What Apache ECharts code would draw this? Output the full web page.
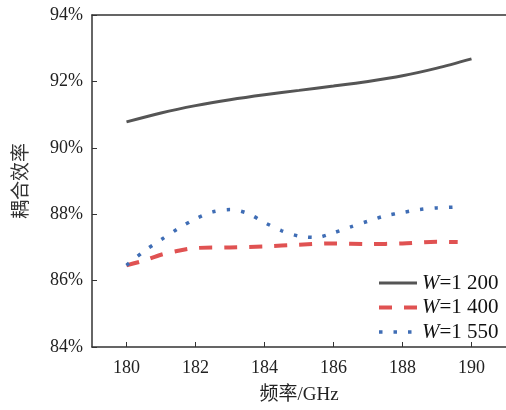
<!DOCTYPE html>
<html>
<head>
<meta charset="utf-8">
<script src="https://cdn.jsdelivr.net/npm/echarts@6/dist/echarts.min.js"></script>
<style>
  html, body { margin: 0; padding: 0; background: #fff; }
  #chart { width: 506px; height: 410px; }
</style>
</head>
<body>
<div id="chart"></div>
<script>
// 频率 (GHz) 与 耦合效率 (%)
var freq1200 = [180, 181, 182, 183, 184, 185, 186, 187, 188, 189, 190];
var eff1200 = [90.78, 91.05, 91.27, 91.45, 91.6, 91.73, 91.86, 92.0, 92.17, 92.4, 92.68];

var freq1400 = [180, 180.5, 181, 181.5, 182, 183, 184, 185, 186, 187, 188, 189, 189.6];
var eff1400 = [86.46, 86.6, 86.78, 86.9, 86.98, 87.0, 87.03, 87.08, 87.12, 87.1, 87.12, 87.17, 87.16];

var freq1550 = [180, 180.5, 181, 181.5, 182, 182.5, 183, 183.5, 184, 184.5, 185, 185.5, 186, 186.5, 187, 187.5, 188, 188.5, 189, 189.7];
var eff1550 = [86.46, 86.88, 87.23, 87.57, 87.86, 88.07, 88.14, 88.03, 87.75, 87.5, 87.34, 87.3, 87.44, 87.62, 87.79, 87.95, 88.05, 88.14, 88.19, 88.22];

var xTicks = [180, 182, 184, 186, 188, 190];
var seriesNames = ['W=1 200', 'W=1 400', 'W=1 550'];

function pairs(xs, ys) {
  var out = [];
  for (var i = 0; i < xs.length; i++) {
    out.push([xs[i], ys[i]]);
  }
  return out;
}

var chart = echarts.init(document.getElementById('chart'));

var serif = '"Liberation Serif", "Times New Roman", serif';
var cjk = '"Liberation Serif", "Noto Sans CJK SC", serif';
var axisColor = '#333';

var lineStyles = [
  { color: '#555', width: 3, type: 'solid' },
  { color: '#e05252', width: 4, type: [13, 12] },
  { color: '#3f6db5', width: 3.5, type: [3.5, 11] }
];

chart.setOption({
  animation: false,
  grid: { left: 92, top: 15, right: 0, bottom: 59 },
  legend: {
    orient: 'vertical',
    left: 377,
    top: 272,
    padding: 0,
    itemWidth: 38,
    itemHeight: 14,
    itemGap: 2.5,
    itemStyle: { opacity: 0 },
    data: seriesNames.map(function (n, i) {
      return { name: n, lineStyle: lineStyles[i] };
    }),
    formatter: function (name) {
      return '{i|W}' + name.slice(1);
    },
    textStyle: {
      fontFamily: serif,
      fontSize: 21,
      color: '#111',
      lineHeight: 22,
      rich: {
        i: { fontFamily: serif, fontSize: 21, fontStyle: 'italic', color: '#111', lineHeight: 22 }
      }
    }
  },
  xAxis: [{
    type: 'value',
    min: 179,
    max: 191,
    name: '频率/GHz',
    nameLocation: 'middle',
    nameGap: 39,
    nameTextStyle: { fontFamily: cjk, fontSize: 19, color: '#222' },
    axisLine: { show: true, lineStyle: { color: axisColor, width: 1.5 } },
    axisTick: { show: true, inside: true, length: 5, customValues: xTicks, lineStyle: { color: axisColor } },
    axisLabel: { customValues: xTicks, margin: 12, fontFamily: serif, fontSize: 18, color: '#222' },
    splitLine: { show: false }
  }, {
    type: 'value',
    position: 'top',
    min: 179,
    max: 191,
    axisLine: { show: true, lineStyle: { color: axisColor, width: 1.5 } },
    axisTick: { show: false },
    axisLabel: { show: false },
    splitLine: { show: false }
  }],
  yAxis: {
    type: 'value',
    min: 84,
    max: 94,
    interval: 2,
    name: '耦合效率',
    nameLocation: 'middle',
    nameGap: 60,
    nameTextStyle: { fontFamily: cjk, fontSize: 19, color: '#333' },
    axisLine: { show: true, lineStyle: { color: axisColor, width: 1.5 } },
    axisTick: { show: true, inside: true, length: 5, lineStyle: { color: axisColor } },
    axisLabel: { formatter: '{value}%', margin: 9, fontFamily: serif, fontSize: 18, color: '#222' },
    splitLine: { show: false }
  },
  series: [{
    name: seriesNames[0],
    type: 'line',
    smooth: 0.3,
    symbol: 'none',
    data: pairs(freq1200, eff1200),
    itemStyle: { color: lineStyles[0].color },
    lineStyle: lineStyles[0]
  }, {
    name: seriesNames[1],
    type: 'line',
    smooth: 0.3,
    symbol: 'none',
    data: pairs(freq1400, eff1400),
    itemStyle: { color: lineStyles[1].color },
    lineStyle: lineStyles[1]
  }, {
    name: seriesNames[2],
    type: 'line',
    smooth: 0.3,
    symbol: 'none',
    data: pairs(freq1550, eff1550),
    itemStyle: { color: lineStyles[2].color },
    lineStyle: lineStyles[2]
  }]
});
</script>
</body>
</html>
